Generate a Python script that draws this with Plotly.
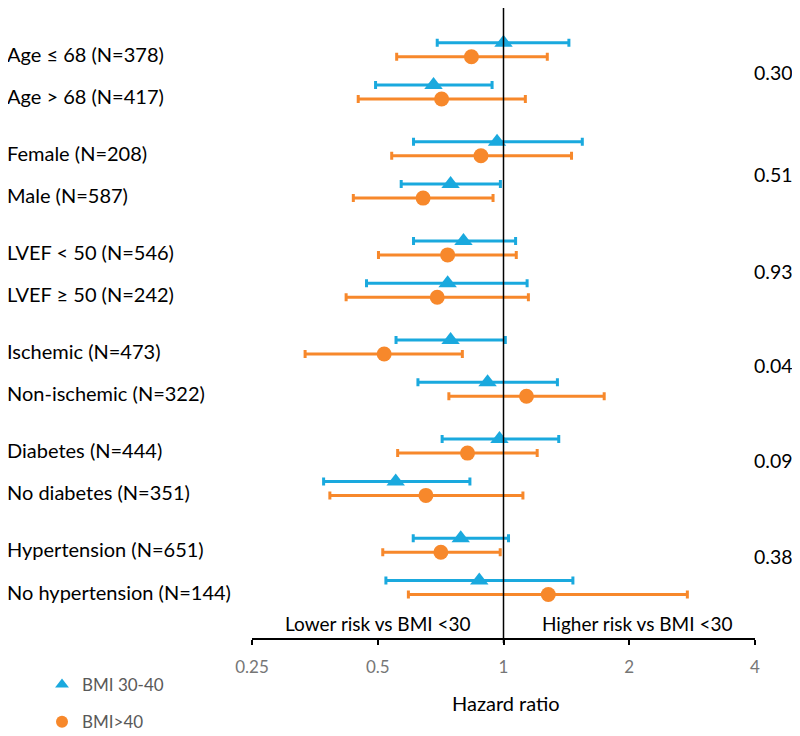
import plotly.graph_objects as go
import math

labels = ["Age ≤ 68 (N=378)", "Age > 68 (N=417)", "Female (N=208)", "Male (N=587)",
          "LVEF < 50 (N=546)", "LVEF ≥ 50 (N=242)", "Ischemic (N=473)", "Non-ischemic (N=322)",
          "Diabetes (N=444)", "No diabetes (N=351)", "Hypertension (N=651)", "No hypertension (N=144)"]
pvalues = ["0.30", "0.51", "0.93", "0.04", "0.09", "0.38"]

hr_30_40 = [1.00, 0.68, 0.965, 0.747, 0.802, 0.735, 0.747, 0.916, 0.978, 0.552, 0.79, 0.875]
lo_30_40 = [0.694, 0.494, 0.609, 0.569, 0.609, 0.47, 0.553, 0.624, 0.713, 0.371, 0.608, 0.523]
hi_30_40 = [1.434, 0.939, 1.544, 0.983, 1.069, 1.139, 1.01, 1.346, 1.356, 0.831, 1.028, 1.466]

hr_40 = [0.838, 0.711, 0.883, 0.642, 0.735, 0.694, 0.518, 1.135, 0.82, 0.652, 0.708, 1.28]
lo_40 = [0.555, 0.449, 0.54, 0.437, 0.502, 0.42, 0.335, 0.74, 0.558, 0.384, 0.514, 0.592]
hi_40 = [1.273, 1.128, 1.455, 0.944, 1.073, 1.147, 0.797, 1.742, 1.204, 1.113, 0.982, 2.755]

tick_vals = [0.25, 0.5, 1, 2, 4]
tick_text = ["0.25", "0.5", "1", "2", "4"]

# ---- layout helpers (page pixels; the page body adds an 8px margin) ----
PAGE_OFF = 8
FIG_W, FIG_H = 800 - PAGE_OFF, 736 - PAGE_OFF
PLOT_L, PLOT_R = 252, 755          # page x of 0.25 and 4
PLOT_T, PLOT_B = PAGE_OFF, 638     # page y of plot top / axis line
ROW_PX = 42.3                      # page px per row unit
ROW0_PX = 42.7                     # page y of first row (unit 0)
GROUP_STEP = 99.1 / ROW_PX
OFFSET = 14 / ROW_PX
PLOT_H = PLOT_B - PLOT_T


def px_x(x):
    return (x - PLOT_L) / (PLOT_R - PLOT_L)


def px_y(y):
    return (PLOT_B - y) / PLOT_H


BLUE = "#1AA9DE"
ORANGE = "#F7882B"

rows = [(i // 2) * GROUP_STEP + (i % 2) for i in range(len(labels))]
y_blue = list(rows)
y_orange = [r + OFFSET for r in rows]

fig = go.Figure()
fig.add_trace(go.Scatter(
    x=hr_30_40, y=y_blue, mode="markers", name="BMI 30-40", showlegend=False,
    marker=dict(symbol="triangle-up", size=16, color=BLUE),
    error_x=dict(type="data", symmetric=False,
                 array=[h - p for h, p in zip(hi_30_40, hr_30_40)],
                 arrayminus=[p - l for p, l in zip(hr_30_40, lo_30_40)],
                 color=BLUE, thickness=3, width=4)))
fig.add_trace(go.Scatter(
    x=hr_40, y=y_orange, mode="markers", name="BMI>40", showlegend=False,
    marker=dict(symbol="circle", size=15, color=ORANGE),
    error_x=dict(type="data", symmetric=False,
                 array=[h - p for h, p in zip(hi_40, hr_40)],
                 arrayminus=[p - l for p, l in zip(hr_40, lo_40)],
                 color=ORANGE, thickness=3, width=4)))
# legend keys (smaller markers, as in the original legend)
fig.add_trace(go.Scatter(x=[None], y=[None], mode="markers", name="BMI 30-40",
                         marker=dict(symbol="triangle-up", size=12, color=BLUE), legendgroup="a"))
fig.add_trace(go.Scatter(x=[None], y=[None], mode="markers", name="BMI>40",
                         marker=dict(symbol="circle", size=12, color=ORANGE), legendgroup="b"))

FONT = "Lato"
label_dy = 4 / ROW_PX
annotations = []
for lab, r in zip(labels, rows):
    annotations.append(dict(text=lab, xref="paper", yref="y", x=px_x(5), y=r + OFFSET / 2 + label_dy,
                            xanchor="left", yanchor="middle", showarrow=False,
                            font=dict(family=FONT, size=20, color="black")))
pvalue_y_px = [73, 175, 271.7, 365, 460, 556.7]
for p, ypx in zip(pvalues, pvalue_y_px):
    annotations.append(dict(text=p, xref="paper", yref="paper", x=px_x(773), y=px_y(ypx),
                            xanchor="center", yanchor="middle", showarrow=False,
                            font=dict(family=FONT, size=19.5, color="black")))
annotations.append(dict(text="Lower risk vs BMI <30", xref="paper", yref="paper", x=px_x(377.5), y=px_y(623),
                        xanchor="center", yanchor="middle", showarrow=False,
                        font=dict(family=FONT, size=19, color="black")))
annotations.append(dict(text="Higher risk vs BMI <30", xref="paper", yref="paper", x=px_x(637), y=px_y(623),
                        xanchor="center", yanchor="middle", showarrow=False,
                        font=dict(family=FONT, size=19, color="black")))
annotations.append(dict(text="Hazard ratio", xref="paper", yref="paper", x=px_x(506), y=px_y(703),
                        xanchor="center", yanchor="middle", showarrow=False,
                        font=dict(family=FONT, size=20, color="black")))

fig.add_shape(type="line", xref="x", yref="paper", x0=1, x1=1, y0=-5 / PLOT_H, y1=1,
              line=dict(color="black", width=1.5))

fig.update_layout(
    width=FIG_W, height=FIG_H,
    margin=dict(l=PLOT_L - PAGE_OFF, r=FIG_W - (PLOT_R - PAGE_OFF), t=PLOT_T - PAGE_OFF,
                b=FIG_H - (PLOT_B - PAGE_OFF), autoexpand=False),
    plot_bgcolor="white", paper_bgcolor="white",
    showlegend=True,
    legend=dict(x=px_x(42), y=px_y(667), xanchor="left", yanchor="top",
                font=dict(family=FONT, size=17, color="#595959"), tracegroupgap=12,
                itemwidth=30, bgcolor="rgba(0,0,0,0)"),
    annotations=annotations,
    xaxis=dict(type="log", range=[math.log10(0.25), math.log10(4)],
               tickvals=tick_vals, ticktext=tick_text, showgrid=False, zeroline=False,
               showline=True, linecolor="black", linewidth=1.5,
               ticks="outside", ticklen=5, tickcolor="black", tickwidth=1.5,
               tickfont=dict(family=FONT, size=17, color="#767676"), ticklabelstandoff=8),
    yaxis=dict(range=[(PLOT_B - ROW0_PX) / ROW_PX, (PLOT_T - ROW0_PX) / ROW_PX],
               showgrid=False, zeroline=False, showticklabels=False, showline=False, ticks=""),
)

fig.write_html("out.html")
